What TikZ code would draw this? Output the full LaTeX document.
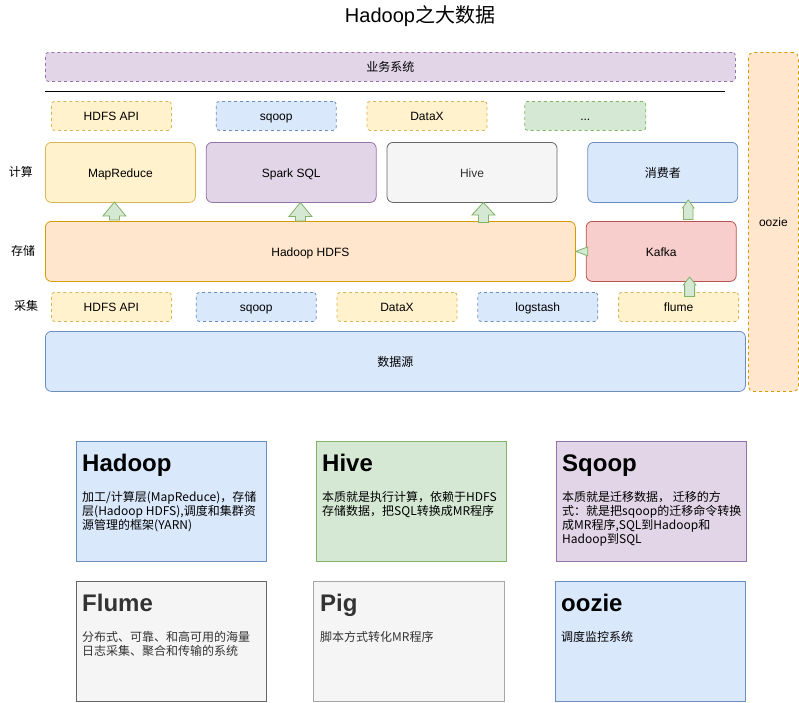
\documentclass[tikz,border=0pt]{standalone}
\usepackage{fontspec}
\setmainfont{Liberation Sans}
\newfontfamily\cjk{Noto Sans CJK SC}
\usetikzlibrary{positioning}

\definecolor{purplef}{HTML}{E1D5E7}
\definecolor{purpled}{HTML}{9673A6}
\definecolor{yellowf}{HTML}{FFF2CC}
\definecolor{yellowd}{HTML}{D6B656}
\definecolor{bluef}{HTML}{DAE8FC}
\definecolor{blued}{HTML}{6C8EBF}
\definecolor{greenf}{HTML}{D5E8D4}
\definecolor{greend}{HTML}{82B366}
\definecolor{grayf}{HTML}{F5F5F5}
\definecolor{grayd}{HTML}{666666}
\definecolor{graytext}{HTML}{333333}
\definecolor{pigd}{HTML}{A6A6A6}
\definecolor{orangef}{HTML}{FFE6CC}
\definecolor{oranged}{HTML}{D79B00}
\definecolor{redf}{HTML}{F8CECC}
\definecolor{redd}{HTML}{B85450}

\tikzset{
	purplebox/.style={fill=purplef, draw=purpled},
	yellowbox/.style={fill=yellowf, draw=yellowd},
	bluebox/.style={fill=bluef, draw=blued},
	greenbox/.style={fill=greenf, draw=greend},
	graybox/.style={fill=grayf, draw=grayd, text=graytext},
	pigbox/.style={fill=grayf, draw=pigd, text=graytext},
	orangebox/.style={fill=orangef, draw=oranged},
	redbox/.style={fill=redf, draw=redd},
	zh/.style={font=\cjk\fontsize{12}{14}\selectfont},
	layer/.style={draw, rounded corners=6pt, line width=0.8pt, minimum height=60pt, inner sep=0pt, text height=10pt, text depth=0pt, font=\fontsize{12}{14}\selectfont},
	tool/.style={draw, dash pattern=on 3pt off 3pt, rounded corners=3pt, line width=0.8pt, minimum width=120pt, minimum height=29pt, inner sep=0pt, text height=10pt, text depth=0pt, font=\fontsize{12}{14}\selectfont},
	card/.style={draw, line width=0.8pt, minimum width=190pt, minimum height=120pt, anchor=north west, inner sep=0pt},
	cardtitle/.style={anchor=base west, inner sep=0pt, font=\fontsize{24}{28}\selectfont\bfseries},
	cardtext/.style={anchor=north west, inner sep=0pt, align=left, font=\cjk\fontsize{12}{14}\selectfont},
	% length / shaft half width / head half width / head length
	pics/flexup/.style args={#1/#2/#3/#4}{code={
		\draw[greenbox, line width=0.8pt] ({-#2pt},0pt) -- ({-#2pt},{#1pt-#4pt}) -- ({-#3pt},{#1pt-#4pt}) -- (0pt,{#1pt})
			-- ({#3pt},{#1pt-#4pt}) -- ({#2pt},{#1pt-#4pt}) -- ({#2pt},0pt) -- cycle;
	}}
}

\begin{document}
\begin{tikzpicture}[x=1pt, y=-1pt]
	\useasboundingbox (0,0) rectangle (799,702);

	\node[font=\fontsize{20}{24}\selectfont] (title) at (420,16) {Hadoop{\cjk 之大数据}};

	% upper part
	\node[tool, purplebox, zh, anchor=north west, minimum width=690pt] (biz) at (45,52) {业务系统};
	\coordinate (rule-l) at (45,91);
	\coordinate (rule-r) at (725,91);
	\draw[line width=0.8pt] (rule-l) -- (rule-r);
	\node[tool, orangebox, anchor=north west, minimum width=50pt, minimum height=339pt, rounded corners=5pt] (oozie) at (748,52) {oozie};

	\node[tool, yellowbox, anchor=north west]          (api-top)   at (51,101) {HDFS API};
	\node[tool, bluebox, right=44pt of api-top]        (sqoop-top)             {sqoop};
	\node[tool, yellowbox, right=30pt of sqoop-top]    (datax-top)             {DataX};
	\node[tool, greenbox, right=37pt of datax-top, minimum width=121pt] (more-top) {...};

	% compute
	\node[zh] (lbl-compute) at (21,172) {计算};
	\node[layer, yellowbox, anchor=north west, minimum width=150pt] (mr) at (45,142) {MapReduce};
	\node[layer, purplebox, right=10pt of mr, minimum width=170pt]   (spark)         {Spark SQL};
	\node[layer, graybox, right=10pt of spark, minimum width=170pt]  (hive)          {Hive};
	\node[layer, bluebox, zh, right=30pt of hive, minimum width=150pt] (consumer)    {消费者};

	% storage
	\node[zh] (lbl-storage) at (23,251) {存储};
	\node[layer, orangebox, anchor=north west, minimum width=530pt] (hdfs) at (45,221) {Hadoop HDFS};
	\node[layer, redbox, right=10pt of hdfs, minimum width=150pt]   (kafka)          {Kafka};

	% collect
	\node[zh] (lbl-collect) at (26,306) {采集};
	\node[tool, yellowbox, anchor=north west]       (api-bot)   at (51,292) {HDFS API};
	\node[tool, bluebox, right=24pt of api-bot]     (sqoop-bot)             {sqoop};
	\node[tool, yellowbox, right=20pt of sqoop-bot] (datax-bot)             {DataX};
	\node[tool, bluebox, right=20pt of datax-bot]   (logstash)              {logstash};
	\node[tool, yellowbox, right=20pt of logstash]  (flume)                 {flume};

	\node[layer, bluebox, zh, anchor=north west, minimum width=700pt] (source) at (45,331) {数据源};

	% flow arrows
	\pic (up-mr)       at ([xshift=-196pt, yshift=1pt]hdfs.north)  {flexup=18/5/11.5/14};
	\pic (up-spark)    at ([xshift=-10pt]hdfs.north)               {flexup=18.5/5/11.5/14};
	\pic (up-hive)     at ([xshift=173pt, yshift=-1.5pt]hdfs.north) {flexup=20/5/11.5/12.5};
	\pic (up-consumer) at ([xshift=27pt, yshift=1.5pt]kafka.north)  {flexup=19.5/4.8/5.8/8};
	\pic (up-kafka)    at ([xshift=11pt, yshift=-4.5pt]flume.north) {flexup=19.5/5/6.3/8};
	\draw[greenbox, line width=0.8pt] ([shift={(2pt,4.5pt)}]kafka.west) -- (hdfs.east) -- ([shift={(2pt,-4.5pt)}]kafka.west) -- cycle;

	% notes
	\node[card, bluebox] (c-hadoop) at (76,441) {};
	\node[cardtitle] (c-hadoop-t) at ([shift={(6pt,-30pt)}]c-hadoop.north west) {Hadoop};
	\node[cardtext]  (c-hadoop-b) at ([shift={(6pt,-50pt)}]c-hadoop.north west) {加工/计算层(MapReduce)，存储\\层(Hadoop HDFS),调度和集群资\\源管理的框架(YARN)};

	\node[card, greenbox] (c-hive) at (316,441) {};
	\node[cardtitle] (c-hive-t) at ([shift={(6pt,-30pt)}]c-hive.north west) {Hive};
	\node[cardtext]  (c-hive-b) at ([shift={(6pt,-50pt)}]c-hive.north west) {本质就是执行计算，依赖于HDFS\\存储数据，把SQL转换成MR程序};

	\node[card, purplebox] (c-sqoop) at (556,441) {};
	\node[cardtitle] (c-sqoop-t) at ([shift={(6pt,-30pt)}]c-sqoop.north west) {Sqoop};
	\node[cardtext]  (c-sqoop-b) at ([shift={(6pt,-50pt)}]c-sqoop.north west) {本质就是迁移数据， 迁移的方\\式：就是把sqoop的迁移命令转换\\成MR程序,SQL到Hadoop和\\Hadoop到SQL};

	\node[card, graybox] (c-flume) at (76,581) {};
	\node[cardtitle, text=graytext] (c-flume-t) at ([shift={(6pt,-30pt)}]c-flume.north west) {Flume};
	\node[cardtext, text=graytext]  (c-flume-b) at ([shift={(6pt,-50pt)}]c-flume.north west) {分布式、可靠、和高可用的海量\\日志采集、聚合和传输的系统};

	\node[card, pigbox, minimum width=191pt] (c-pig) at (313,581) {};
	\node[cardtitle, text=graytext] (c-pig-t) at ([shift={(7pt,-30pt)}]c-pig.north west) {Pig};
	\node[cardtext, text=graytext]  (c-pig-b) at ([shift={(7pt,-50pt)}]c-pig.north west) {脚本方式转化MR程序};

	\node[card, bluebox] (c-oozie) at (555,581) {};
	\node[cardtitle] (c-oozie-t) at ([shift={(6pt,-30pt)}]c-oozie.north west) {oozie};
	\node[cardtext]  (c-oozie-b) at ([shift={(6pt,-50pt)}]c-oozie.north west) {调度监控系统};
\end{tikzpicture}
\end{document}
